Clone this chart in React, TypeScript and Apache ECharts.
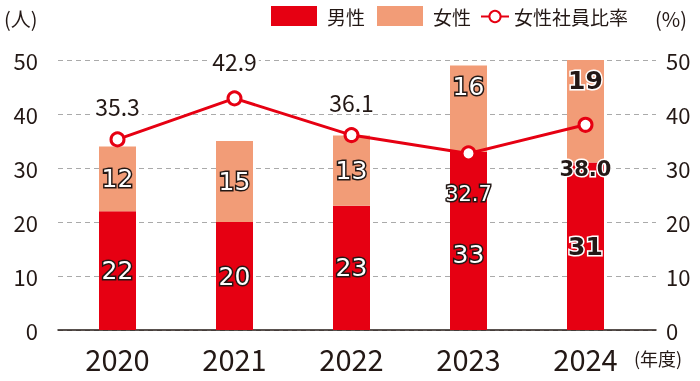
import React, { useEffect, useRef } from "react";
import * as echarts from "echarts";

const categories = ["2020", "2021", "2022", "2023", "2024"];
const maleValues = [22, 20, 23, 33, 31];
const femaleValues = [12, 15, 13, 16, 19];
const ratioValues = [35.3, 42.9, 36.1, 32.7, 38.0];
const yTicks = [0, 10, 20, 30, 40, 50];

const RED = "#e60012";
const SALMON = "#f29c77";
const DARK = "#231815";
const FONT = "'Noto Sans CJK JP', 'Noto Sans', sans-serif";
const NUMFONT = "'DejaVu Sans', 'Noto Sans CJK JP', sans-serif";

export default function App() {
  const ref = useRef<HTMLDivElement>(null);
  useEffect(() => {
    if (!ref.current) return;
    const chart = echarts.init(ref.current, undefined, { renderer: "svg" });
    const outlinedWhite = {
      color: "#fff",
      fontWeight: "normal",
      textBorderColor: DARK,
      textBorderWidth: 3,
    };
    const boldDark = {
      color: DARK,
      fontWeight: "bold",
      textBorderColor: "#fff",
      textBorderWidth: 3,
    };
    const maleLabels = [{}, {}, {}, { offset: [0, 14] }, boldDark];
    const femaleLabels = [{}, {}, {}, { offset: [0, -22] }, { ...boldDark, offset: [0, -31] }];
    const ratioLabels: any[] = [
      { position: "top", distance: 14 },
      { position: "top", distance: 18 },
      { position: "top", distance: 14 },
      { position: "bottom", distance: 22, ...outlinedWhite, fontFamily: NUMFONT, fontSize: 21, backgroundColor: "transparent" },
      { position: "bottom", distance: 26, ...boldDark, fontFamily: NUMFONT, fontSize: 21, backgroundColor: "transparent" },
    ];
    const yMax = yTicks[yTicks.length - 1];
    chart.setOption({
      animation: false,
      textStyle: { fontFamily: FONT },
      legend: [
        {
          data: ["男性", "女性"],
          left: 266,
          top: 1,
          itemWidth: 46,
          itemHeight: 20,
          itemGap: 12,
          icon: "rect",
          textStyle: { fontSize: 19, color: DARK, fontFamily: FONT, padding: [0, 0, 0, 5] },
        },
        {
          data: ["女性社員比率"],
          left: 475,
          top: 2,
          itemWidth: 28,
          itemHeight: 14,
          textStyle: { fontSize: 19, color: DARK, fontFamily: FONT },
        },
      ],
      grid: [
        { left: 58, right: 44, top: 60, bottom: 51 },
        { left: 59, width: 585, top: 60, bottom: 51 },
      ],
      xAxis: [
        {
          gridIndex: 0,
          type: "category",
          data: categories,
          axisLine: { show: true, lineStyle: { color: DARK, width: 1.5 } },
          axisTick: { show: false },
          axisLabel: { show: false },
        },
        {
          gridIndex: 1,
          type: "category",
          data: categories,
          axisLine: { show: false },
          axisTick: { show: false },
          axisLabel: { fontSize: 29, color: DARK, margin: 13, fontFamily: FONT },
        },
      ],
      yAxis: [
        {
          gridIndex: 0,
          type: "value",
          min: 0,
          max: yMax,
          interval: 10,
          position: "left",
          axisLine: { show: false },
          axisTick: { show: false },
          axisLabel: { fontSize: 22, color: DARK, margin: 20, fontFamily: FONT },
          splitLine: { lineStyle: { color: "#aaaaaa", type: [5, 4], width: 1 } },
        },
        {
          gridIndex: 0,
          type: "value",
          min: 0,
          max: yMax,
          interval: 10,
          position: "right",
          axisLine: { show: false },
          axisTick: { show: false },
          axisLabel: { fontSize: 22, color: DARK, margin: 10, fontFamily: FONT },
          splitLine: { show: false },
        },
        {
          gridIndex: 1,
          type: "value",
          min: 0,
          max: yMax,
          show: false,
        },
      ],
      series: [
        {
          name: "男性",
          type: "bar",
          stack: "t",
          xAxisIndex: 1,
          yAxisIndex: 2,
          barWidth: 37,
          itemStyle: { color: RED },
          label: { show: true, position: "inside", fontSize: 25, fontFamily: NUMFONT, ...outlinedWhite },
          data: maleValues.map((v, i) => ({ value: v, label: maleLabels[i] })),
        },
        {
          name: "女性",
          type: "bar",
          stack: "t",
          xAxisIndex: 1,
          yAxisIndex: 2,
          barWidth: 37,
          itemStyle: { color: SALMON },
          label: { show: true, position: "inside", fontSize: 25, fontFamily: NUMFONT, ...outlinedWhite },
          data: femaleValues.map((v, i) => ({ value: v, label: femaleLabels[i] })),
        },
        {
          name: "女性社員比率",
          type: "line",
          xAxisIndex: 1,
          yAxisIndex: 2,
          z: 5,
          symbol: "circle",
          symbolSize: 13,
          lineStyle: { color: RED, width: 3 },
          itemStyle: { color: "#fff", borderColor: RED, borderWidth: 3 },
          label: {
            show: true,
            fontSize: 23,
            color: DARK,
            fontFamily: FONT,
            backgroundColor: "#fff",
            padding: [0, 2],
            formatter: (p: any) => Number(p.value).toFixed(1),
          },
          data: ratioValues.map((v, i) => ({ value: v, label: ratioLabels[i] })),
        },
      ],
      graphic: [
        {
          type: "text",
          left: 4,
          top: 8,
          style: { text: "(人)", fontSize: 20, fill: DARK, fontFamily: FONT },
        },
        {
          type: "text",
          left: 655,
          top: 8,
          style: { text: "(%)", fontSize: 20, fill: DARK, fontFamily: FONT },
        },
        {
          type: "text",
          left: 634,
          top: 349,
          style: { text: "(年度)", fontSize: 18, fill: DARK, fontFamily: FONT },
        },
      ],
    });
    return () => chart.dispose();
  }, []);
  return <div ref={ref} style={{ width: 700, height: 381, position: "fixed", left: 0, top: 0 }} />;
}
